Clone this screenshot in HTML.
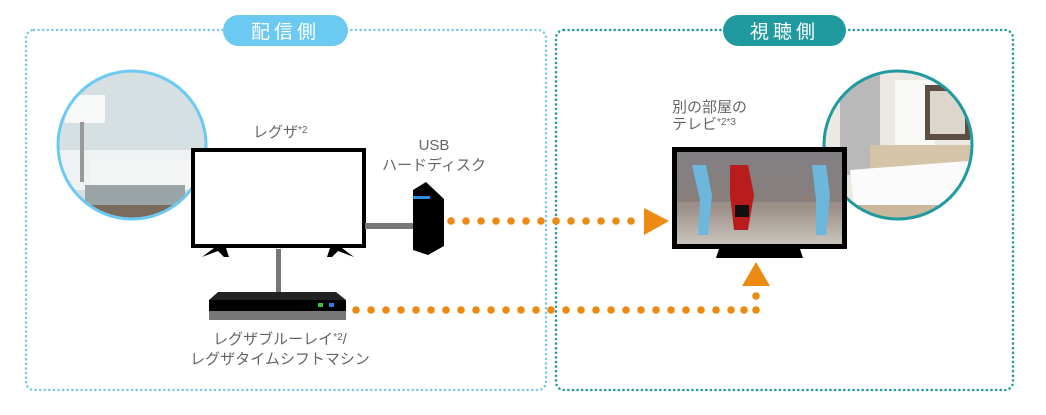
<!DOCTYPE html>
<html><head><meta charset="utf-8"><style>
body{margin:0;background:#fff;}
svg{display:block;font-family:"Liberation Sans","Noto Sans CJK JP",sans-serif;}
</style></head><body>
<svg width="1046" height="415" viewBox="0 0 1046 415" xmlns="http://www.w3.org/2000/svg">
<defs>
<clipPath id="c1"><circle cx="132" cy="145" r="73"/></clipPath>
<clipPath id="c2"><circle cx="898" cy="145" r="73"/></clipPath>
<linearGradient id="pitch" x1="0" y1="0" x2="0" y2="1"><stop offset="0" stop-color="#8a8f99"/><stop offset="0.6" stop-color="#9b8f88"/><stop offset="1" stop-color="#c9c5bd"/></linearGradient>
</defs>
<rect x="26" y="30" width="520" height="360" rx="8" fill="none" stroke="#7cc8ea" stroke-width="2.5" stroke-dasharray="0.1 4.5" stroke-linecap="round"/>
<rect x="556" y="30" width="457" height="360" rx="8" fill="none" stroke="#1f9a9e" stroke-width="2.5" stroke-dasharray="0.1 4.5" stroke-linecap="round"/>
<rect x="223" y="15" width="125" height="31" rx="15.5" fill="#6ccaf2"/>
<text x="285.5" y="38" text-anchor="middle" font-size="19" fill="#fff" letter-spacing="4">配信側</text>
<rect x="723" y="15" width="123" height="31" rx="15.5" fill="#1f9a9e"/>
<text x="784.5" y="38" text-anchor="middle" font-size="19" fill="#fff" letter-spacing="4">視聴側</text>
<!-- left circle -->
<g clip-path="url(#c1)">
<rect x="55" y="70" width="160" height="160" fill="#d6e0e3"/>
<rect x="55" y="150" width="160" height="40" fill="#eef2f3"/>
<rect x="90" y="160" width="110" height="30" fill="#f4f6f6"/>
<rect x="85" y="185" width="100" height="22" fill="#9aa4a6"/>
<rect x="55" y="205" width="160" height="30" fill="#7a6b5c"/>
<rect x="65" y="95" width="40" height="28" fill="#f7f9f9"/>
<rect x="80" y="122" width="4" height="60" fill="#999"/>
</g>
<circle cx="132" cy="145" r="74" fill="none" stroke="#6ccaf2" stroke-width="3"/>
<!-- right circle -->
<g clip-path="url(#c2)">
<rect x="820" y="70" width="160" height="160" fill="#ece8e2"/>
<rect x="840" y="75" width="40" height="100" fill="#b9b9b9"/>
<rect x="895" y="80" width="40" height="75" fill="#f8f8f6"/>
<rect x="925" y="85" width="45" height="55" fill="#5d4e42"/>
<rect x="930" y="91" width="35" height="43" fill="#dcd6cc"/>
<rect x="870" y="145" width="110" height="25" fill="#d6c4a8"/>
<path d="M850 170 L980 160 L980 215 L855 215 Z" fill="#fbfbfb"/>
<rect x="850" y="205" width="130" height="25" fill="#cbb89c"/>
</g>
<circle cx="898" cy="145" r="74" fill="none" stroke="#1f9a9e" stroke-width="3"/>
<!-- TV left -->
<rect x="193" y="150" width="171" height="96" fill="#fff" stroke="#000" stroke-width="4"/>
<polygon points="202,257 214,248 226,248 229,257 224,257 218,251" fill="#000"/>
<polygon points="354,257 342,248 330,248 327,257 332,257 338,251" fill="#000"/>
<rect x="276" y="249" width="5" height="43" fill="#777"/>
<!-- recorder -->
<polygon points="218,292 336,292 346,300 209,300" fill="#222"/>
<rect x="209" y="300" width="137" height="11" fill="#000"/>
<rect x="209" y="311" width="137" height="9" fill="#777"/>
<rect x="318" y="303" width="5" height="4" fill="#35c43a"/>
<rect x="329" y="303" width="5" height="4" fill="#2f7de0"/>
<!-- HDD -->
<rect x="365" y="223" width="48" height="6" fill="#777"/>
<polygon points="413,190 426,182 444,199 444,246 428,255 413,250" fill="#000"/>
<rect x="413" y="196" width="17" height="3" fill="#2f8de0"/>
<!-- orange dots -->
<g fill="#ec8a12">
<circle cx="451" cy="221" r="3.8"/><circle cx="466" cy="221" r="3.8"/><circle cx="481" cy="221" r="3.8"/><circle cx="496" cy="221" r="3.8"/><circle cx="511" cy="221" r="3.8"/><circle cx="526" cy="221" r="3.8"/><circle cx="541" cy="221" r="3.8"/><circle cx="556" cy="221" r="3.8"/><circle cx="571" cy="221" r="3.8"/><circle cx="586" cy="221" r="3.8"/><circle cx="601" cy="221" r="3.8"/><circle cx="616" cy="221" r="3.8"/><circle cx="631" cy="221" r="3.8"/>
<polygon points="644,208 669,221 644,235"/>
<circle cx="356" cy="310" r="3.8"/><circle cx="371" cy="310" r="3.8"/><circle cx="386" cy="310" r="3.8"/><circle cx="401" cy="310" r="3.8"/><circle cx="416" cy="310" r="3.8"/><circle cx="431" cy="310" r="3.8"/><circle cx="446" cy="310" r="3.8"/><circle cx="461" cy="310" r="3.8"/><circle cx="476" cy="310" r="3.8"/><circle cx="491" cy="310" r="3.8"/><circle cx="506" cy="310" r="3.8"/><circle cx="521" cy="310" r="3.8"/><circle cx="536" cy="310" r="3.8"/><circle cx="551" cy="310" r="3.8"/><circle cx="566" cy="310" r="3.8"/><circle cx="581" cy="310" r="3.8"/><circle cx="596" cy="310" r="3.8"/><circle cx="611" cy="310" r="3.8"/><circle cx="626" cy="310" r="3.8"/><circle cx="641" cy="310" r="3.8"/><circle cx="656" cy="310" r="3.8"/><circle cx="671" cy="310" r="3.8"/><circle cx="686" cy="310" r="3.8"/><circle cx="701" cy="310" r="3.8"/><circle cx="716" cy="310" r="3.8"/><circle cx="731" cy="310" r="3.8"/><circle cx="744" cy="310" r="3.8"/><circle cx="756" cy="310" r="3.8"/><circle cx="756" cy="296" r="3.8"/>
<polygon points="742,286 756,262 770,286"/>
</g>
<!-- right TV -->
<rect x="672" y="147" width="175" height="102" fill="#000"/>
<rect x="677" y="152" width="165" height="92" fill="url(#pitch)"/>
<rect x="677" y="152" width="165" height="50" fill="#7d7575" opacity="0.6"/>
<path d="M692 165 l14 0 l6 30 l-4 40 l-10 0 l2 -35 Z" fill="#6db6dc"/>
<path d="M730 165 l18 0 l6 30 l-6 35 l-14 0 l-4 -35 Z" fill="#b81c1c"/>
<rect x="735" y="205" width="14" height="12" fill="#111"/>
<path d="M812 165 l14 0 l4 30 l-4 40 l-10 0 l0 -35 Z" fill="#6db6dc"/>
<polygon points="719,249 800,249 803,258 716,258" fill="#000"/>
<!-- labels -->
<g fill="#666" font-size="15">
<text x="253" y="137">レグザ<tspan font-size="10" dy="-4">*2</tspan></text>
<text x="434" y="150" text-anchor="middle">USB</text>
<text x="434" y="170" text-anchor="middle">ハードディスク</text>
<text x="280" y="344" text-anchor="middle">レグザブルーレイ<tspan font-size="10" dy="-4">*2</tspan><tspan dy="4">/</tspan></text>
<text x="280" y="364" text-anchor="middle">レグザタイムシフトマシン</text>
<text x="672" y="112">別の部屋の</text>
<text x="672" y="129">テレビ<tspan font-size="10" dy="-4">*2*3</tspan></text>
</g>
</svg>
</body></html>
